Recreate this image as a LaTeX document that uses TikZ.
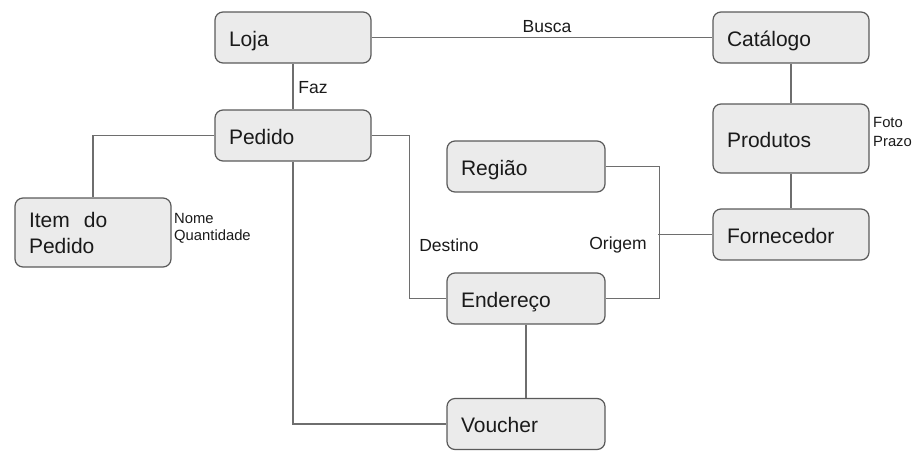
\documentclass[tikz,border=0pt]{standalone}
\usepackage{fontspec}
\setmainfont{Liberation Sans}
\definecolor{boxfill}{HTML}{EBEBEB}
\definecolor{boxline}{HTML}{5A5A5A}
\definecolor{conn}{HTML}{6E6E6E}
\definecolor{txt}{HTML}{1A1A1A}
\begin{document}
\begin{tikzpicture}[x=1pt,y=-1pt,
  box/.style={draw=boxline, fill=boxfill, line width=1.2pt, rounded corners=8pt,
    inner xsep=14pt, inner ysep=0pt, align=left, text=txt,
    font=\fontsize{21}{26}\selectfont},
  oneline/.style={text height=17.5pt, text depth=0pt},
  w156/.style={text width=128pt},
  w158/.style={text width=130pt},
  link/.style={draw=conn, line width=1.3pt},
  elabel/.style={text=txt, inner sep=0pt, font=\fontsize{17.5}{20}\selectfont},
  slabel/.style={text=txt, inner sep=0pt, anchor=west, font=\fontsize{14.8}{17}\selectfont}]
\useasboundingbox (0,0) rectangle (920,458);

\node[box, oneline, w156, minimum height=51pt] (loja) at (293,37.5) {Loja};
\node[box, oneline, w156, minimum height=51pt] (pedido) at (293,135.5) {Pedido};
\node[box, oneline, w156, minimum height=51pt] (catalogo) at (791,37.5) {Catálogo};
\node[box, oneline, w156, minimum height=69pt] (produtos) at (791,138.5) {Produtos};
\node[box, oneline, w158, minimum height=51pt] (regiao) at (526,166.5) {Região};
\node[box, oneline, w156, minimum height=51pt] (fornecedor) at (791,234.5) {Fornecedor};
\node[box, w156, minimum height=69pt] (item) at (93,232.5) {Item~~do\\Pedido};
\node[box, oneline, w158, minimum height=51pt] (endereco) at (526,298.5) {Endereço};
\node[box, oneline, w158, minimum height=51pt] (voucher) at (526,424) {Voucher};

\draw[link] (loja.east) -- (catalogo.west);
\draw[link] (loja.south) -- (pedido.north);
\draw[link] (pedido.west) -| (item.north);
\draw[link] (pedido.east) -- ++(38,0) |- (endereco.west);
\draw[link] (pedido.south) |- (voucher.west);
\draw[link] (regiao.east) -- ++(54,0) |- (endereco.east);
\draw[link] (fornecedor.west) -- ++(-54,0);
\draw[link] (catalogo.south) -- (produtos.north);
\draw[link] (produtos.south) -- (fornecedor.north);
\draw[link] (endereco.south) -- (voucher.north);

\node[elabel] (busca) at (547,27) {Busca};
\node[elabel] (faz) at (313,88) {Faz};
\node[elabel] (destino) at (449,245) {Destino};
\node[elabel] (origem) at (618,245) {Origem};
\node[slabel] (nome) at (174,218) {Nome};
\node[slabel] (qtd) at (174,237) {Quantidade};
\node[slabel] (foto) at (873,122) {Foto};
\node[slabel] (prazo) at (873,141) {Prazo};
\end{tikzpicture}
\end{document}
